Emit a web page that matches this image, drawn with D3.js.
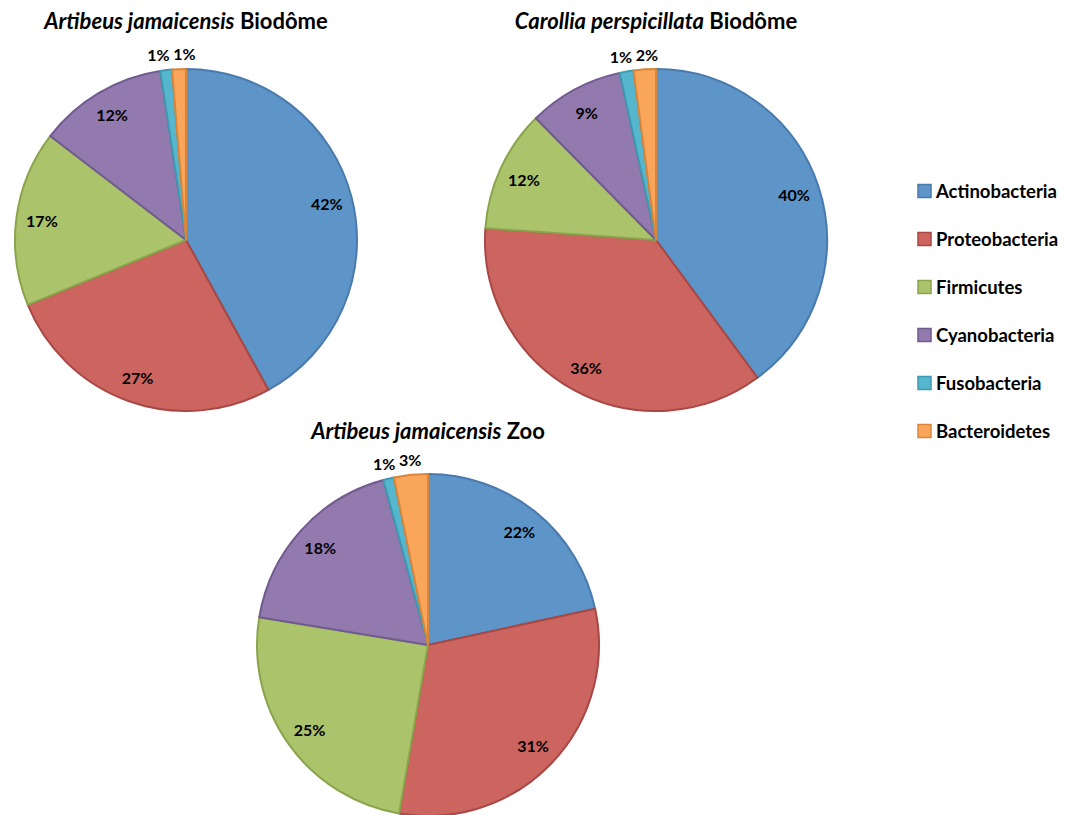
<!DOCTYPE html>
<html><head><meta charset="utf-8">
<script src="https://cdn.jsdelivr.net/npm/d3@7"></script>
<style>
html,body{margin:0;padding:0;background:#fff;}
text{font-family:Lato,"Open Sans",sans-serif;font-weight:bold;fill:#000;}
</style></head>
<body><svg id="chart" width="1074" height="815"></svg>
<script>
// ---- data ----
const categories = ["Actinobacteria","Proteobacteria","Firmicutes","Cyanobacteria","Fusobacteria","Bacteroidetes"];
const chartSpecies = ["Artibeus jamaicensis","Carollia perspicillata","Artibeus jamaicensis"];
const chartSites = ["Biodôme","Biodôme","Zoo"];
const artibeusBiodome = [42.0, 26.8, 16.6, 12.2, 1.1, 1.3];
const carolliaBiodome = [39.9, 36.2, 11.5, 9.0, 1.3, 2.1];
const artibeusZoo     = [21.6, 31.1, 24.9, 18.2, 1.0, 3.2];
const seriesList = [artibeusBiodome, carolliaBiodome, artibeusZoo];

// ---- style ----
const fills   = ["#5E95C9","#CC6560","#ABC36A","#9279AE","#56B6CD","#F9A65A"];
const strokes = ["#4A7AAD","#A84744","#8AA44C","#715A8E","#3E9AB0","#D9863A"];

const svg = d3.select("#chart");
const color = d3.scaleOrdinal().domain(categories).range(fills);
const strokeColor = d3.scaleOrdinal().domain(categories).range(strokes);

const R = 171;
const layout = [
  {cx:186, cy:240, tx:186, ty:29},
  {cx:656, cy:240, tx:656, ty:29},
  {cx:428, cy:645, tx:428, ty:439}
];

const pie = d3.pie().sort(null).value(d => d.v);
const arc = d3.arc().innerRadius(0).outerRadius(R);

seriesList.forEach((vals, i) => {
  const L = layout[i];
  const data = vals.map((v, k) => ({cat: categories[k], v}));
  const arcs = pie(data);
  const g = svg.append("g").attr("transform", `translate(${L.cx},${L.cy})`);
  g.selectAll("path").data(arcs).enter().append("path")
    .attr("d", arc)
    .attr("fill", d => color(d.data.cat))
    .attr("stroke", d => strokeColor(d.data.cat))
    .attr("stroke-width", 2)
    .attr("stroke-linejoin", "round");

  // labels
  const labels = arcs.map(d => {
    const a = (d.startAngle + d.endAngle) / 2;
    const outside = d.data.v < 4;
    const rl = outside ? R * 1.09 : R * 0.85;
    return {a, outside, x: rl * Math.sin(a), y: -rl * Math.cos(a), text: Math.round(d.data.v) + "%"};
  });
  // resolve overlap of outside labels horizontally
  const out = labels.filter(l => l.outside).sort((p, q) => p.x - q.x);
  const minSep = 26;
  for (let k = 1; k < out.length; k++) {
    const gap = out[k].x - out[k-1].x;
    if (gap < minSep) {
      const m = (out[k].x + out[k-1].x) / 2;
      out[k-1].x = m - minSep / 2; out[k].x = m + minSep / 2;
    }
  }
  g.selectAll("text.lbl").data(labels).enter().append("text")
    .attr("class", "lbl")
    .attr("x", d => d.x).attr("y", d => d.y)
    .attr("text-anchor", "middle").attr("dominant-baseline", "central")
    .style("font-size", "16px")
    .text(d => d.text);

  // title
  const t = svg.append("text")
    .attr("x", L.tx).attr("y", L.ty)
    .attr("text-anchor", "middle")
    .style("font-size", "22px");
  t.append("tspan").style("font-style", "italic").text(chartSpecies[i]);
  t.append("tspan").text(" " + chartSites[i]);
});

// legend
const legend = svg.append("g").attr("transform", "translate(918,191)");
const ly = d3.scalePoint().domain(categories).range([0, 240]);
const items = legend.selectAll("g").data(categories).enter().append("g")
  .attr("transform", d => `translate(0,${ly(d)})`);
items.append("rect").attr("x", 0).attr("y", -6.5).attr("width", 13).attr("height", 13)
  .attr("fill", d => color(d)).attr("stroke", d => strokeColor(d)).attr("stroke-width", 1.5);
items.append("text").attr("x", 18).attr("y", 0).attr("dominant-baseline", "central")
  .style("font-size", "18.5px").text(d => d);
</script></body></html>
